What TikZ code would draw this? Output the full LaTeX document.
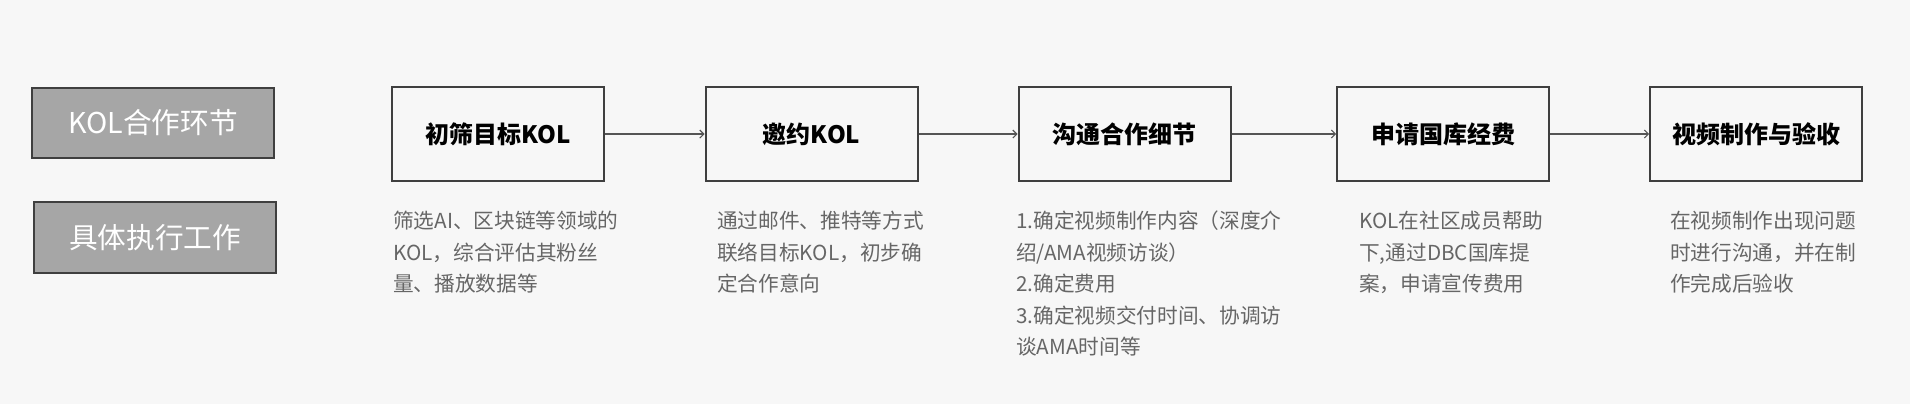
\documentclass[tikz,border=0pt]{standalone}
\usepackage{fontspec}
\setmainfont{Noto Sans CJK SC}
\usepackage{tikz}
\usetikzlibrary{arrows.meta}
\definecolor{bggray}{HTML}{F7F7F7}
\definecolor{labelgray}{HTML}{A6A6A6}
\definecolor{edgegray}{HTML}{3F3F3F}
\definecolor{descgray}{HTML}{666666}
\definecolor{arrowgray}{HTML}{555555}

\begin{document}
\begin{tikzpicture}[x=0.75pt, y=-0.75pt,
	label/.style = {draw=edgegray, line width=1.5pt, fill=labelgray, text=white,
		minimum width=182pt, minimum height=53pt, font=\fontsize{21.5}{26}\selectfont},
	stage/.style = {draw=edgegray, line width=1.5pt, fill=bggray,
		minimum width=159pt, minimum height=70.5pt, font=\fontsize{18}{22}\selectfont\bfseries},
	desc/.style = {anchor=north west, inner sep=0pt, align=left, text=descgray,
		font=\fontsize{15.5}{23.6}\selectfont},
	flow/.style = {-{Straight Barb[length=3pt,width=6pt]}, draw=arrowgray, line width=0.8pt}]
	
	\fill[bggray] (0,0) rectangle (1910,404);
	\useasboundingbox (0,0) rectangle (1910,404);
	
	\node[label] (hdra) at (153,123) {KOL合作环节};
	\node[label] (hdrb) at (155,237.5) {具体执行工作};
	
	\node[stage] (s1) at (498,134) {初筛目标KOL};
	\node[stage] (s2) at (811.5,134) {邀约KOL};
	\node[stage] (s3) at (1124.5,134) {沟通合作细节};
	\node[stage] (s4) at (1443,134) {申请国库经费};
	\node[stage] (s5) at (1756,134) {视频制作与验收};
	
	\draw[flow] (s1) -- (s2);
	\draw[flow] (s2) -- (s3);
	\draw[flow] (s3) -- (s4);
	\draw[flow] (s4) -- (s5);
	
	\node[desc] (d1) at (393,211) {筛选AI、区块链等领域的\\KOL，综合评估其粉丝\\量、播放数据等};
	\node[desc] (d2) at (717,211) {通过邮件、推特等方式\\联络目标KOL，初步确\\定合作意向};
	\node[desc] (d3) at (1016,211) {1.确定视频制作内容（深度介\\绍/AMA视频访谈）\\2.确定费用\\3.确定视频交付时间、协调访\\谈AMA时间等};
	\node[desc] (d4) at (1359,211) {KOL在社区成员帮助\\下,通过DBC国库提\\案，申请宣传费用};
	\node[desc] (d5) at (1670,211) {在视频制作出现问题\\时进行沟通，并在制\\作完成后验收};
	
\end{tikzpicture}
\end{document}
